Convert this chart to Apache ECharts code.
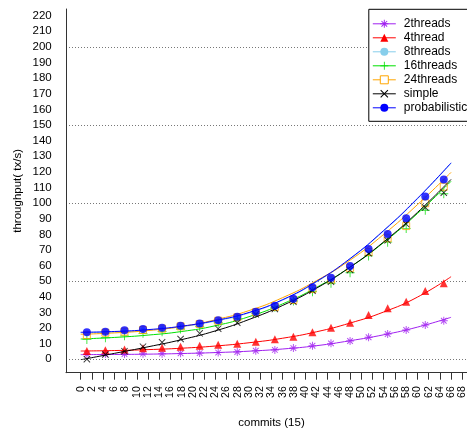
<!DOCTYPE html>
<html>
<head>
<meta charset="utf-8">
<script src="https://cdn.jsdelivr.net/npm/echarts@6/dist/echarts.min.js"></script>
<style>
  html, body { margin: 0; padding: 0; background: #fff; }
  #chart { width: 467px; height: 433px; }
</style>
</head>
<body>
<div id="chart"></div>
<script>
// ---- data ----
const seriesNames = ['2threads', '4thread', '8threads', '16threads', '24threads', 'simple', 'probabilistic'];
const commitsPts = [1.1, 4.4, 7.8, 11.1, 14.5, 17.8, 21.2, 24.5, 27.9, 31.2, 34.6, 37.9, 41.3, 44.6, 48.0, 51.3, 54.7, 58.0, 61.4, 64.7];
const threads2Pts = [3.2, 3.4, 3.4, 3.6, 3.6, 3.8, 4.0, 4.3, 4.7, 5.5, 6.0, 7.2, 8.7, 10.2, 11.7, 14.1, 16.2, 18.8, 22.0, 24.7];
const thread4Pts = [5.3, 5.8, 6.2, 7.0, 7.4, 8.1, 8.7, 9.3, 10.0, 11.2, 12.8, 14.5, 17.3, 20.2, 23.4, 28.4, 32.7, 36.9, 43.7, 48.7];
const threads8Pts = [17.0, 17.5, 18.3, 19.1, 20.0, 21.2, 22.7, 24.6, 27.0, 30.1, 33.8, 38.3, 45.6, 51.6, 59.0, 69.8, 79.4, 89.5, 103.2, 114.0];
const threads16Pts = [12.6, 13.8, 15.0, 16.6, 17.7, 19.4, 20.9, 23.4, 26.2, 29.4, 33.3, 37.3, 43.3, 48.7, 55.4, 66.2, 75.0, 83.8, 95.4, 106.0];
const threads24Pts = [15.5, 17.0, 17.7, 18.8, 19.6, 21.1, 22.6, 24.7, 26.9, 30.1, 33.5, 38.0, 45.0, 51.1, 58.5, 68.7, 77.5, 85.3, 99.9, 110.5];
const simplePts = [0.1, 3.0, 5.2, 8.1, 10.9, 13.0, 16.6, 19.6, 23.4, 28.8, 32.2, 36.9, 43.9, 49.7, 57.2, 67.9, 76.2, 86.6, 97.2, 106.7];
const probabilisticPts = [17.3, 17.7, 18.6, 19.4, 20.2, 21.5, 23.0, 25.0, 27.3, 30.5, 34.3, 38.8, 46.1, 52.2, 59.7, 70.6, 80.2, 90.3, 104.2, 115.1];

// fitted curves, read at these commit values
const fitX = [0, 6, 12, 18, 24, 30, 36, 42, 48, 54, 60, 66];
const threads2Fit = [3.0, 3.1, 3.3, 3.7, 4.3, 5.2, 6.6, 8.7, 11.9, 15.7, 20.6, 26.9];
const thread4Fit = [5.3, 5.6, 6.2, 7.1, 8.5, 10.6, 13.5, 17.6, 23.2, 30.3, 39.8, 52.9];
const threads8Fit = [17.0, 17.5, 18.7, 20.9, 24.5, 29.7, 37.9, 49.5, 64.2, 82.2, 102.7, 125.5];
const threads16Fit = [13.0, 14.0, 15.5, 17.8, 21.5, 27.3, 35.5, 46.0, 59.0, 74.8, 93.3, 114.0];
const threads24Fit = [16.0, 16.9, 18.4, 21.0, 25.3, 31.2, 39.5, 50.3, 63.5, 80.0, 99.0, 119.7];
const simpleFit = [-0.3, 3.8, 8.0, 12.6, 18.2, 25.5, 34.5, 45.5, 59.0, 75.2, 94.0, 115.2];
const probabilisticFit = [17.3, 17.8, 19.0, 21.2, 24.8, 30.0, 38.2, 49.8, 64.5, 82.5, 103.0, 125.8];

// ---- styling ----
const FONT = "'Liberation Sans', Arial, Helvetica, sans-serif";
const ASTERISK = 'path://M-0.12,-1L0.12,-1L0.12,1L-0.12,1Z M-1,-0.12L1,-0.12L1,0.12L-1,0.12Z M-0.622,-0.792L0.792,0.622L0.622,0.792L-0.792,-0.622Z M-0.792,0.622L0.622,-0.792L0.792,-0.622L-0.622,0.792Z';
const PLUS = 'path://M-0.1,-1L0.1,-1L0.1,1L-0.1,1Z M-1,-0.1L1,-0.1L1,0.1L-1,0.1Z';
const CROSS = 'path://M-0.63,-0.77L0.77,0.63L0.63,0.77L-0.77,-0.63Z M-0.77,0.63L0.63,-0.77L0.77,-0.63L-0.63,0.77Z';

const groups = [
  { name: seriesNames[0], pts: threads2Pts, fit: threads2Fit, color: '#A020F0', symbol: ASTERISK, size: 8 },
  { name: seriesNames[1], pts: thread4Pts, fit: thread4Fit, color: '#FF0000', symbol: 'triangle', size: 8 },
  { name: seriesNames[2], pts: threads8Pts, fit: threads8Fit, color: '#87CEEB', symbol: 'circle', size: 5 },
  { name: seriesNames[3], pts: threads16Pts, fit: threads16Fit, color: '#00E000', symbol: PLUS, size: 9 },
  { name: seriesNames[4], pts: threads24Pts, fit: threads24Fit, color: '#FFA500', symbol: 'rect', size: 7, open: true },
  { name: seriesNames[5], pts: simplePts, fit: simpleFit, color: '#000000', symbol: CROSS, size: 7 },
  { name: seriesNames[6], pts: probabilisticPts, fit: probabilisticFit, color: '#0000FF', symbol: 'circle', size: 8 }
];

const series = [];
groups.forEach(function (g, gi) {
  const itemStyle = g.open
    ? { color: '#ffffff', borderColor: g.color, borderWidth: 1 }
    : { color: g.color, borderWidth: 0 };
  series.push({
    type: 'line', name: g.name, xAxisIndex: 0, yAxisIndex: 0,
    data: fitX.map(function (x, i) { return [x, g.fit[i]]; }),
    smooth: true, showSymbol: false, symbol: g.symbol, symbolSize: 8,
    lineStyle: { color: g.color, width: 1 },
    itemStyle: itemStyle,
    z: 2 + gi * 0.01, silent: true
  });
  series.push({
    type: 'scatter', name: g.name + ' points', xAxisIndex: 0, yAxisIndex: 0,
    data: g.pts.map(function (y, i) { return [commitsPts[i], y]; }),
    symbol: g.symbol, symbolSize: g.size,
    itemStyle: g.open ? { color: 'rgba(0,0,0,0)', borderColor: g.color, borderWidth: 1 } : { color: g.color },
    z: 2 + gi * 0.01 + 0.005, silent: true
  });
});

const option = {
  animation: false,
  backgroundColor: '#ffffff',
  textStyle: { fontFamily: FONT },
  grid: [
    { left: 80.7, right: 4.7, top: 15.7, bottom: 73.7, containLabel: false, outerBoundsMode: 'none' },
    { left: 66, right: 0, top: 9, bottom: 60.3, containLabel: false, outerBoundsMode: 'none' },
    { left: 66, right: 0, top: 46.9, bottom: 73.7, containLabel: false, outerBoundsMode: 'none' }
  ],
  xAxis: [
    {
      gridIndex: 0, type: 'value', min: 0, max: 68, interval: 2, offset: 13.4,
      axisLine: { show: false, onZero: false },
      axisTick: { show: true, length: 7, lineStyle: { color: '#333', width: 1 } },
      axisLabel: { rotate: 90, margin: 13.5, fontSize: 10.5, color: '#000', fontFamily: FONT },
      splitLine: { show: false },
      name: 'commits (15)', nameLocation: 'middle', nameGap: 44,
      nameTextStyle: { fontSize: 11.5, color: '#000', fontFamily: FONT }
    },
    {
      gridIndex: 1, type: 'value', min: 0, max: 1,
      axisLine: { show: true, onZero: false, lineStyle: { color: '#333', width: 1 } },
      axisTick: { show: false }, axisLabel: { show: false }, splitLine: { show: false }
    },
    { gridIndex: 2, type: 'value', min: 0, max: 1, show: false }
  ],
  yAxis: [
    {
      gridIndex: 0, type: 'value', min: 0, max: 220, interval: 10, offset: 14.7,
      axisLine: { show: false, onZero: false },
      axisTick: { show: false },
      axisLabel: { margin: 14.3, fontSize: 11.5, color: '#000', fontFamily: FONT },
      splitLine: { show: false }
    },
    {
      gridIndex: 1, type: 'value', min: 0, max: 1,
      axisLine: { show: true, onZero: false, lineStyle: { color: '#333', width: 1 } },
      axisTick: { show: false }, axisLabel: { show: false }, splitLine: { show: false },
      name: 'throughput( tx/s)', nameLocation: 'middle', nameGap: 42,
      nameTextStyle: { fontSize: 11.5, color: '#000', fontFamily: FONT }
    },
    {
      gridIndex: 2, type: 'value', min: 0, max: 200, interval: 50,
      axisLine: { show: false }, axisTick: { show: false }, axisLabel: { show: false },
      splitLine: { show: true, lineStyle: { color: '#777', width: 1, type: [1, 2] } }
    }
  ],
  legend: {
    orient: 'vertical', left: 368.8, top: 9.3,
    itemWidth: 23, itemHeight: 10, itemGap: 0,
    padding: [7.5, 1, 6.5, 3.5],
    backgroundColor: '#ffffff', borderColor: '#000', borderWidth: 1, borderRadius: 0,
    lineStyle: { width: 1 },
    itemStyle: { borderWidth: 0 },
    textStyle: { fontSize: 12, lineHeight: 14, color: '#000', fontFamily: FONT, padding: [0, 0, 0, 3] },
    selectedMode: false,
    data: seriesNames.map(function (n) {
      return n === '24threads' ? { name: n, itemStyle: { borderWidth: 1 } } : { name: n };
    })
  },
  series: series
};

const chart = echarts.init(document.getElementById('chart'), null, { renderer: 'canvas' });
chart.setOption(option);
</script>
</body>
</html>
